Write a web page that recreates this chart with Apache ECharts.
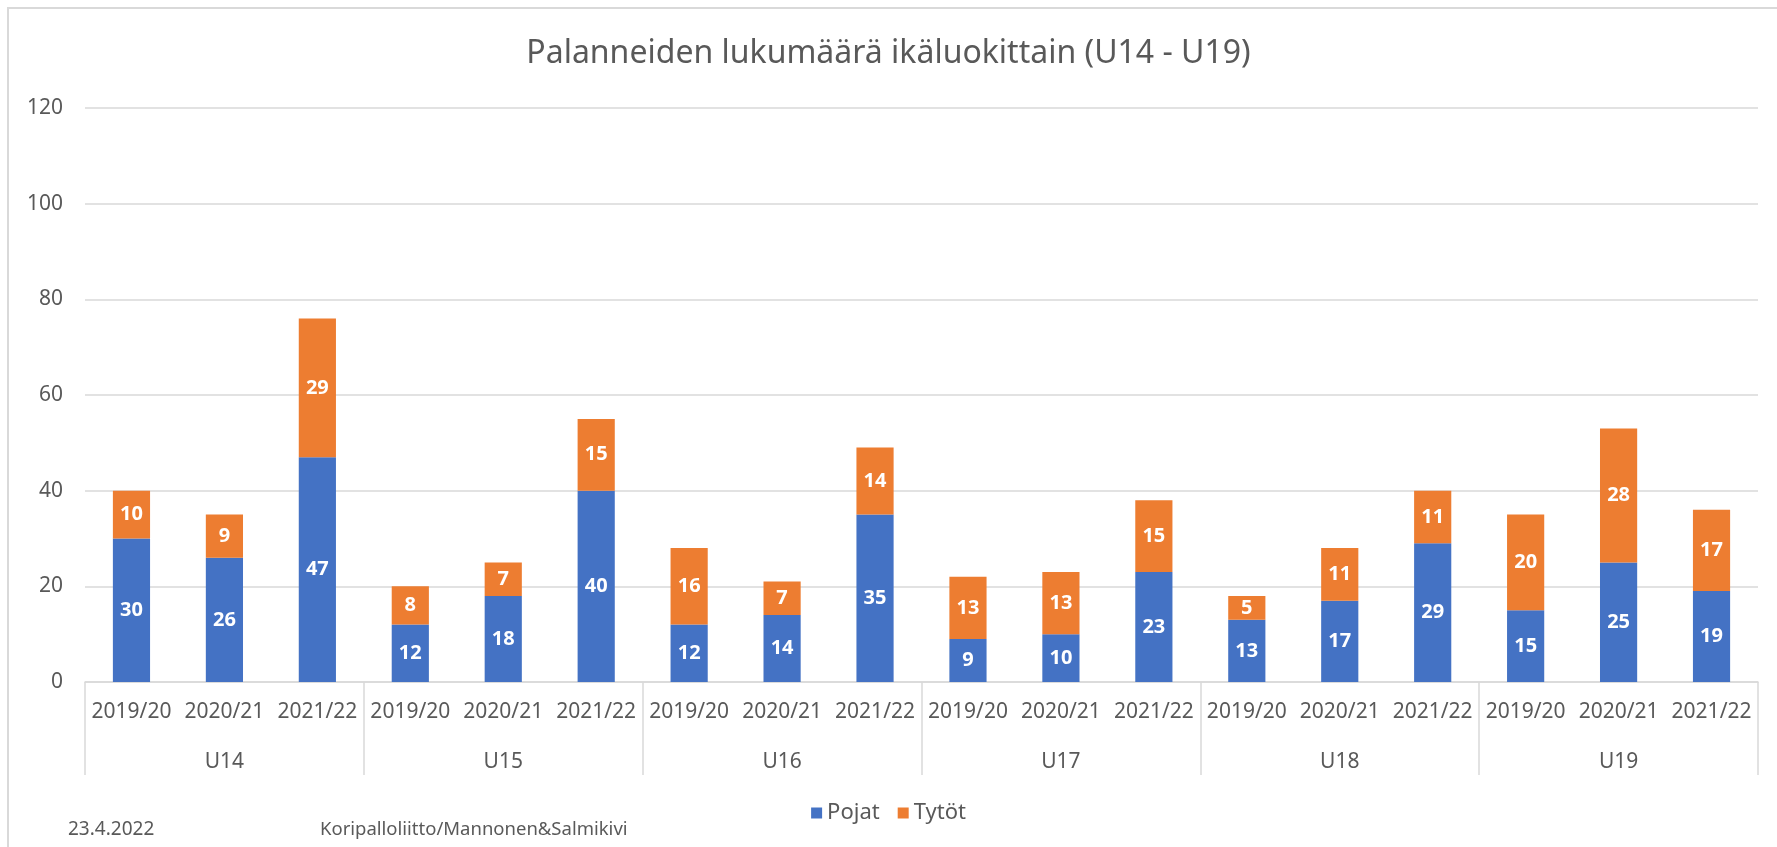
<!DOCTYPE html>
<html>
<head>
<meta charset="utf-8">
<title>Palanneiden lukumäärä ikäluokittain</title>
<script src="https://cdn.jsdelivr.net/npm/echarts@6/dist/echarts.min.js"></script>
<style>
  html, body { margin: 0; padding: 0; background: #fff; }
  #chart { width: 1777px; height: 847px; }
</style>
</head>
<body>
<div id="chart"></div>
<script>
// kaudet joka ikäluokassa
const seasons = ['2019/20', '2020/21', '2021/22']
const ageGroups = ['U14', 'U15', 'U16', 'U17', 'U18', 'U19']
const pojat = [30, 26, 47, 12, 18, 40, 12, 14, 35, 9, 10, 23, 13, 17, 29, 15, 25, 19]
const tytot = [10, 9, 29, 8, 7, 15, 16, 7, 14, 13, 13, 15, 5, 11, 11, 20, 28, 17]
const yTicks = [0, 20, 40, 60, 80, 100, 120]

const categories = []
ageGroups.forEach(() => seasons.forEach(s => categories.push(s)))

const font = 'Noto Sans'
const grey = '#595959'
const lineGrey = '#d9d9d9'

const barLabel = {
  show: true,
  position: 'inside',
  color: '#fff',
  fontWeight: 'bold',
  fontSize: 20,
  fontFamily: font
}

const chart = echarts.init(document.getElementById('chart'))
chart.setOption({
  animation: false,
  title: {
    text: 'Palanneiden lukumäärä ikäluokittain (U14 - U19)',
    left: 'center',
    top: 33,
    textStyle: { color: grey, fontSize: 32, fontWeight: 'normal', fontFamily: font }
  },
  grid: { left: 85, right: 19, top: 108, bottom: 165 },
  legend: {
    data: ['Pojat', 'Tytöt'],
    left: 'center',
    top: 797,
    icon: 'rect',
    itemWidth: 11,
    itemHeight: 11,
    itemGap: 18,
    textStyle: { color: grey, fontSize: 22, fontFamily: font }
  },
  xAxis: [
    {
      type: 'category',
      position: 'bottom',
      data: categories,
      axisLine: { lineStyle: { color: lineGrey, width: 1.5 } },
      axisTick: { show: false },
      axisLabel: { interval: 0, margin: 20, color: grey, fontSize: 21, fontFamily: font }
    },
    {
      type: 'category',
      position: 'bottom',
      data: ageGroups,
      axisLine: { show: false },
      axisTick: { show: true, length: 93, interval: 0, lineStyle: { color: lineGrey, width: 1.5 } },
      axisLabel: { interval: 0, margin: 70, color: grey, fontSize: 21, fontFamily: font }
    }
  ],
  yAxis: {
    type: 'value',
    min: yTicks[0],
    max: yTicks[yTicks.length - 1],
    interval: 20,
    axisLine: { show: false },
    axisTick: { show: false },
    splitLine: { lineStyle: { color: lineGrey, width: 1.5 } },
    axisLabel: { margin: 22, color: grey, fontSize: 21, fontFamily: font }
  },
  series: [
    {
      name: 'Pojat',
      type: 'bar',
      stack: 'yht',
      xAxisIndex: 0,
      barWidth: '40%',
      itemStyle: { color: '#4472c4' },
      label: barLabel,
      data: pojat
    },
    {
      name: 'Tytöt',
      type: 'bar',
      stack: 'yht',
      xAxisIndex: 0,
      barWidth: '40%',
      itemStyle: { color: '#ed7d31' },
      label: barLabel,
      data: tytot
    }
  ],
  graphic: [
    {
      type: 'rect',
      shape: { x: 8, y: 8, width: 1800, height: 900 },
      style: { fill: 'none', stroke: lineGrey, lineWidth: 2 },
      silent: true
    },
    {
      type: 'text',
      left: 68,
      top: 820,
      style: { text: '23.4.2022', fill: grey, fontSize: 19, fontFamily: font }
    },
    {
      type: 'text',
      left: 320,
      top: 820,
      style: { text: 'Koripalloliitto/Mannonen&Salmikivi', fill: grey, fontSize: 18.5, fontFamily: font }
    }
  ]
})
</script>
</body>
</html>
